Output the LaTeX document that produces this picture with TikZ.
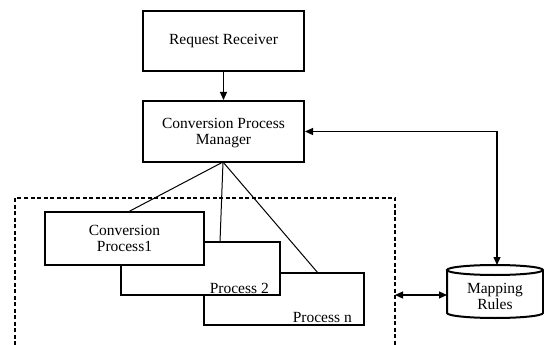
\documentclass[tikz,border=0pt]{standalone}
\usepackage{fontspec}
\setmainfont{Liberation Serif}
\usetikzlibrary{arrows.meta}
\begin{document}
\begin{tikzpicture}[x=1pt,y=-1pt,
  every node/.style={font=\fontsize{15.5}{17}\selectfont},
  box/.style={draw,line width=2pt,fill=white,inner sep=0pt},
  txt/.style={inner sep=0pt,align=center},
  conn/.style={line width=1pt},
  arr/.style={line width=1.2pt,-{Triangle[length=8pt,width=7pt]}},
  darr/.style={line width=1.2pt,{Triangle[length=8pt,width=7pt]}-{Triangle[length=8pt,width=7pt]}}]
\useasboundingbox (0,0) rectangle (544,345);
% top boxes
\node[box,minimum width=161pt,minimum height=60pt,align=center] (rr) at (223.5,41) {Request Receiver};
\node[box,minimum width=161pt,minimum height=61pt,align=center,text depth=0pt] (cpm) at (223.5,131.5) {Conversion Process\\[-1pt]Manager};
% dashed container
\draw[line width=1.5pt,dash pattern=on 4pt off 2.5pt] (15,345) -- (15,198) -- (395,198) -- (395,345);
\coordinate (dr) at (395,295);
% process boxes
\node[box,minimum width=160pt,minimum height=52pt] (pn) at (284,299) {};
\node[txt,anchor=base east] (pnt) at (352,322.5) {Process n};
\node[box,minimum width=159pt,minimum height=53pt] (p2) at (200.5,268.5) {};
\node[txt,anchor=base east] (p2t) at (269,293) {Process 2};
\node[box,minimum width=159pt,minimum height=53pt,align=center] (p1) at (124.5,238.5) {Conversion\\[-1pt]Process1};
% connectors from manager
\coordinate (cpmb) at (223,162);
\draw[conn] (cpmb) -- (128,212);
\draw[conn] (cpmb) -- (220,242);
\draw[conn] (cpmb) -- (318,273);
% cylinder
\draw[line width=2pt,fill=white] (447,270) -- (447,313) arc[start angle=180,end angle=360,x radius=48pt,y radius=5pt] -- (543,270);
\draw[line width=2pt,fill=white] (495,270) ellipse[x radius=48pt,y radius=5pt];
\coordinate (mrtop) at (497,265);
\coordinate (mrleft) at (447,295);
\node[txt] (mr) at (495,296) {Mapping\\[-1pt]Rules};
% arrows
\draw[arr] (rr.south) -- (cpm.north);
\draw[darr] (cpm.east) -- (497,131.5) -- (mrtop);
\draw[darr] (dr) -- (mrleft);
\end{tikzpicture}
\end{document}
